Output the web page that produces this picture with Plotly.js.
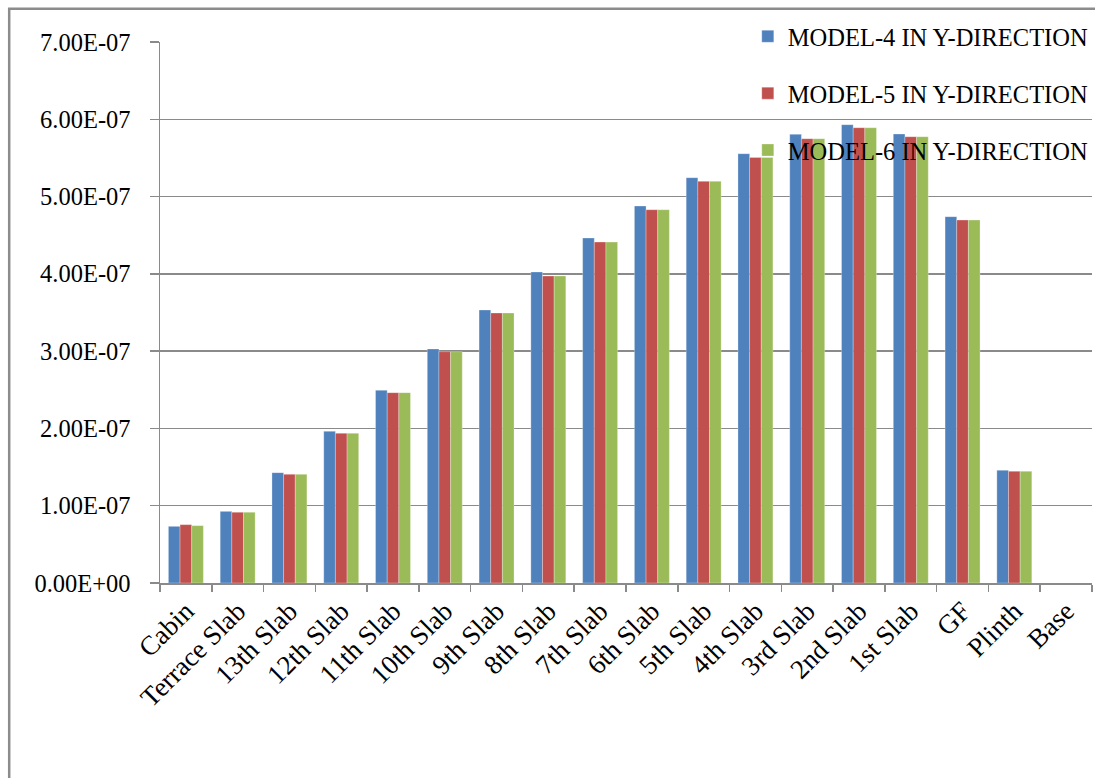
<!DOCTYPE html>
<html>
<head>
<meta charset="utf-8">
<script src="https://cdn.plot.ly/plotly-3.0.1.min.js"></script>
<style>
  html, body { margin: 0; padding: 0; background: #ffffff; }
  #chart { width: 1095px; height: 778px; }
</style>
</head>
<body>
<div id="chart"></div>
<script>
// Storey levels along the x axis
const categories = [
  'Cabin', 'Terrace Slab', '13th Slab', '12th Slab', '11th Slab', '10th Slab',
  '9th Slab', '8th Slab', '7th Slab', '6th Slab', '5th Slab', '4th Slab',
  '3rd Slab', '2nd Slab', '1st Slab', 'GF', 'Plinth', 'Base'
];

// Values per model (Y-direction)
const model4 = [
  0.733e-7, 0.927e-7, 1.428e-7, 1.962e-7, 2.493e-7, 3.028e-7,
  3.532e-7, 4.024e-7, 4.463e-7, 4.877e-7, 5.244e-7, 5.555e-7,
  5.805e-7, 5.930e-7, 5.809e-7, 4.740e-7, 1.458e-7, 0
];
const model5 = [
  0.755e-7, 0.915e-7, 1.406e-7, 1.937e-7, 2.463e-7, 2.993e-7,
  3.493e-7, 3.972e-7, 4.411e-7, 4.830e-7, 5.197e-7, 5.507e-7,
  5.749e-7, 5.891e-7, 5.775e-7, 4.696e-7, 1.446e-7, 0
];
const model6 = [
  0.742e-7, 0.915e-7, 1.406e-7, 1.937e-7, 2.463e-7, 2.993e-7,
  3.493e-7, 3.972e-7, 4.411e-7, 4.830e-7, 5.197e-7, 5.507e-7,
  5.749e-7, 5.891e-7, 5.775e-7, 4.696e-7, 1.446e-7, 0
];

const seriesNames = ['MODEL-4 IN Y-DIRECTION', 'MODEL-5 IN Y-DIRECTION', 'MODEL-6 IN Y-DIRECTION'];
const seriesColors = ['#4F81BD', '#C0504D', '#9BBB59'];

// Y-axis ticks in scientific notation
const yTickVals = [0, 1e-7, 2e-7, 3e-7, 4e-7, 5e-7, 6e-7, 7e-7];
const yTickText = ['0.00E+00', '1.00E-07', '2.00E-07', '3.00E-07', '4.00E-07', '5.00E-07', '6.00E-07', '7.00E-07'];

const serif = '"Liberation Serif", "Times New Roman", serif';
const gridGray = '#8a8a8a';

const seriesValues = [model4, model5, model6];
const traces = seriesValues.map((vals, i) => ({
  type: 'bar',
  name: seriesNames[i],
  x: categories,
  y: vals,
  legendgroup: 'g' + i,
  marker: {
    color: seriesColors[i],
    line: { color: 'rgba(255,255,255,0.35)', width: 0.8 }
  },
  hoverinfo: 'x+y+name'
}));

const layout = {
  width: 1095,
  height: 778,
  margin: { l: 160, r: 2, t: 42, b: 195, pad: 0 },
  paper_bgcolor: '#ffffff',
  plot_bgcolor: '#ffffff',
  barmode: 'group',
  bargap: 0.325,
  bargroupgap: 0,
  font: { family: serif, color: '#000000' },
  xaxis: {
    type: 'category',
    tickangle: -45,
    tickfont: { family: serif, size: 27, color: '#000000' },
    showline: true,
    linecolor: gridGray,
    linewidth: 1.5,
    ticks: 'outside',
    tickson: 'boundaries',
    ticklen: 7,
    tickwidth: 1.5,
    tickcolor: gridGray,
    showgrid: false,
    zeroline: false
  },
  yaxis: {
    range: [0, 7e-7],
    tickvals: yTickVals,
    ticktext: yTickText,
    tickfont: { family: serif, size: 24.5, color: '#000000' },
    ticklabelstandoff: 14,
    showline: true,
    linecolor: gridGray,
    linewidth: 1.5,
    ticks: 'outside',
    ticklen: 9,
    tickwidth: 1.5,
    tickcolor: gridGray,
    showgrid: true,
    gridcolor: gridGray,
    gridwidth: 1.5,
    zeroline: false
  },
  legend: {
    x: 0.630,
    xanchor: 'left',
    y: 1.052,
    yanchor: 'top',
    bgcolor: 'rgba(0,0,0,0)',
    borderwidth: 0,
    font: { family: serif, size: 24.5, color: '#000000' },
    tracegroupgap: 22
  },
  showlegend: true,
  shapes: [{
    type: 'rect',
    xref: 'paper', yref: 'paper',
    x0: -0.1618, x1: 1.01,
    y0: -0.40, y1: 1.0616,
    line: { color: '#8c8c8c', width: 2.5 },
    fillcolor: 'rgba(0,0,0,0)',
    layer: 'above'
  }]
};

Plotly.newPlot('chart', traces, layout, { displayModeBar: false, staticPlot: true });
</script>
</body>
</html>
